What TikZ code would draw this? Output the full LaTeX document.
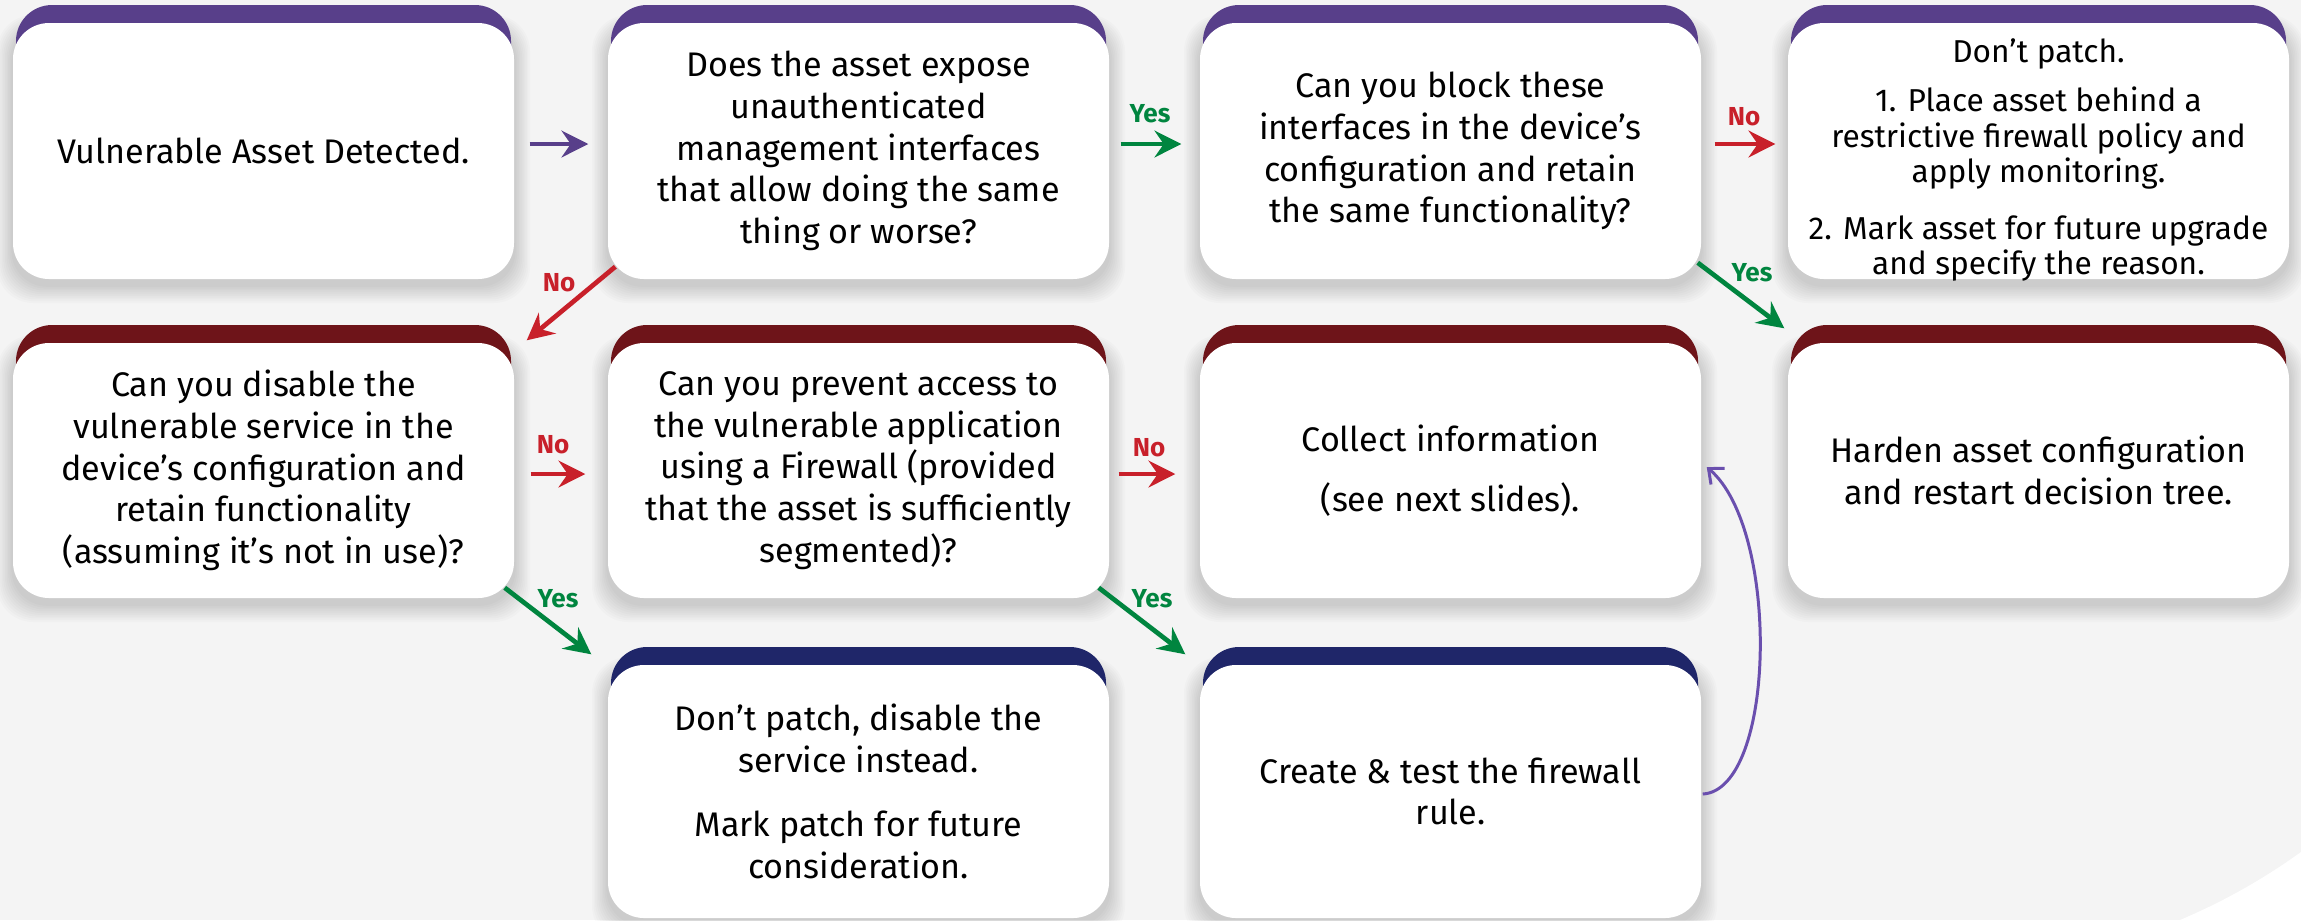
\documentclass[tikz,border=0pt]{standalone}
\usepackage{fontspec}
\setmainfont{Fira Sans}
\usetikzlibrary{arrows.meta,calc}
\definecolor{hdpurple}{HTML}{583F8A}
\definecolor{hdred}{HTML}{6E1419}
\definecolor{hdnavy}{HTML}{1F2669}
\definecolor{nored}{HTML}{C8202A}
\definecolor{yesgreen}{HTML}{00853F}
\definecolor{bggray}{HTML}{F4F4F4}
\definecolor{curvepurple}{HTML}{6A4FAE}
\newcommand\cardfont{\fontsize{9.7}{11.86}\selectfont}
\newcommand\smallcardfont{\fontsize{9.0}{9.96}\selectfont}
\tikzset{
  x=0.01cm, y=-0.01cm,
  card/.style={fill=white, rounded corners=0.36cm, inner sep=0pt, align=center, font=\cardfont},
  lab/.style={font=\fontsize{7.4}{8}\selectfont\bfseries, inner sep=0pt},
  flowarrow/.style={line width=1.34pt, -{Stealth[length=7.6pt, width=7.6pt, inset=2.6pt]}},
  backcurve/.style={line width=0.85pt, curvepurple, -{Straight Barb[length=3.5pt, width=6pt]}},
}
% [#1 node options], #2 name, #3 x1, #4 y1, #5 x2, #6 y2, #7 header colour, #8 text
\newcommand\mycard[8][]{%
  \foreach \i in {1,...,10}{%
    \fill[black, opacity=0.014, rounded corners=0.36cm]
      (#3-1.6*\i, #4+4-1.2*\i) rectangle (#5+1.6*\i, #6+6+1.8*\i);
  }
  \fill[#7, rounded corners=0.36cm] (#3+3, #4-18) rectangle (#5-3, #4+100);
  \node[card, minimum width={(#5-#3)*0.01cm}, minimum height={(#6-#4)*0.01cm}]
    (#2) at ({(#3+#5)/2}, {(#4+#6)/2}) {};
  \node[card, fill=none, #1] (#2-text) at (#2.center) {#8};
}
\begin{document}
\begin{tikzpicture}
\fill[bggray] (0,0) rectangle (2301,920);
\useasboundingbox (0,0) rectangle (2301,920);
\fill[white] (2301,852) .. controls (2255,885) and (2215,905) .. (2180,920) -- (2301,920) -- cycle;

% row 1
\mycard{b1}{13}{23}{514}{279}{hdpurple}{Vulnerable Asset Detected.}
\mycard{b2}{608}{23}{1109}{279}{hdpurple}{Does the asset expose\\unauthenticated\\management interfaces\\that allow doing the same\\thing or worse?}
\mycard{b3}{1200}{23}{1701}{279}{hdpurple}{Can you block these\\interfaces in the device’s\\configuration and retain\\the same functionality?}
\mycard[font=\smallcardfont, yshift=-0.09cm]{b4}{1788}{23}{2289}{279}{hdpurple}{Don’t patch.\\[4pt]1. Place asset behind a\\restrictive firewall policy and\\apply monitoring.\\[6.3pt]2. Mark asset for future upgrade\\and specify the reason.}
% row 2
\mycard{b5}{13}{343}{514}{598}{hdred}{Can you disable the\\vulnerable service in the\\device’s configuration and\\retain functionality\\(assuming it’s not in use)?}
\mycard{b6}{608}{343}{1109}{598}{hdred}{Can you prevent access to\\the vulnerable application\\using a Firewall (provided\\that the asset is sufficiently\\segmented)?}
\mycard{b7}{1200}{343}{1701}{598}{hdred}{Collect information\\[5.4pt](see next slides).}
\mycard{b8}{1788}{343}{2289}{598}{hdred}{Harden asset configuration\\and restart decision tree.}
% row 3
\mycard{b9}{608}{665}{1109}{918}{hdnavy}{Don’t patch, disable the\\service instead.\\[6.5pt]Mark patch for future\\consideration.}
\mycard{b10}{1200}{665}{1701}{918}{hdnavy}{Create \& test the firewall\\rule.}

% connectors
\draw[flowarrow, hdpurple] ([shift={(15,-7)}]b1.east) -- ([shift={(-19,-7)}]b2.west);
\draw[flowarrow, yesgreen] ([shift={(11,-7)}]b2.east) -- ([shift={(-18,-7)}]b3.west);
\draw[flowarrow, nored] ([shift={(13,-7)}]b3.east) -- ([shift={(-12,-7)}]b4.west);
\draw[flowarrow, nored] ([shift={(8,-13)}]b2.south west) -- ([shift={(12,-2)}]b5.north east);
\draw[flowarrow, yesgreen] ([shift={(-4,-17)}]b3.south east) -- ([shift={(-3,-14)}]b8.north west);
\draw[flowarrow, nored] ([shift={(16,3.5)}]b5.east) -- ([shift={(-22,3.5)}]b6.west);
\draw[flowarrow, nored] ([shift={(9,3.5)}]b6.east) -- ([shift={(-24,3.5)}]b7.west);
\draw[flowarrow, yesgreen] ([shift={(-10,-11)}]b5.south east) -- ([shift={(-16,-10)}]b9.north west);
\draw[flowarrow, yesgreen] ([shift={(-11,-11)}]b6.south east) -- ([shift={(-14,-10)}]b10.north west);
\draw[backcurve] ([shift={(1,2.5)}]b10.east) .. controls +(73,-4) and +(74,63) .. ([shift={(5,-3.5)}]b7.east);

% labels
\node[lab, yesgreen] (l1) at (1150,114) {Yes};
\node[lab, nored] (l2) at (1744,117) {No};
\node[lab, nored] (l3) at (559,283) {No};
\node[lab, yesgreen] (l4) at (1752,273) {Yes};
\node[lab, nored] (l5) at (553,445) {No};
\node[lab, nored] (l6) at (1149,448) {No};
\node[lab, yesgreen] (l7) at (558,599) {Yes};
\node[lab, yesgreen] (l8) at (1152,599) {Yes};
\end{tikzpicture}
\end{document}
